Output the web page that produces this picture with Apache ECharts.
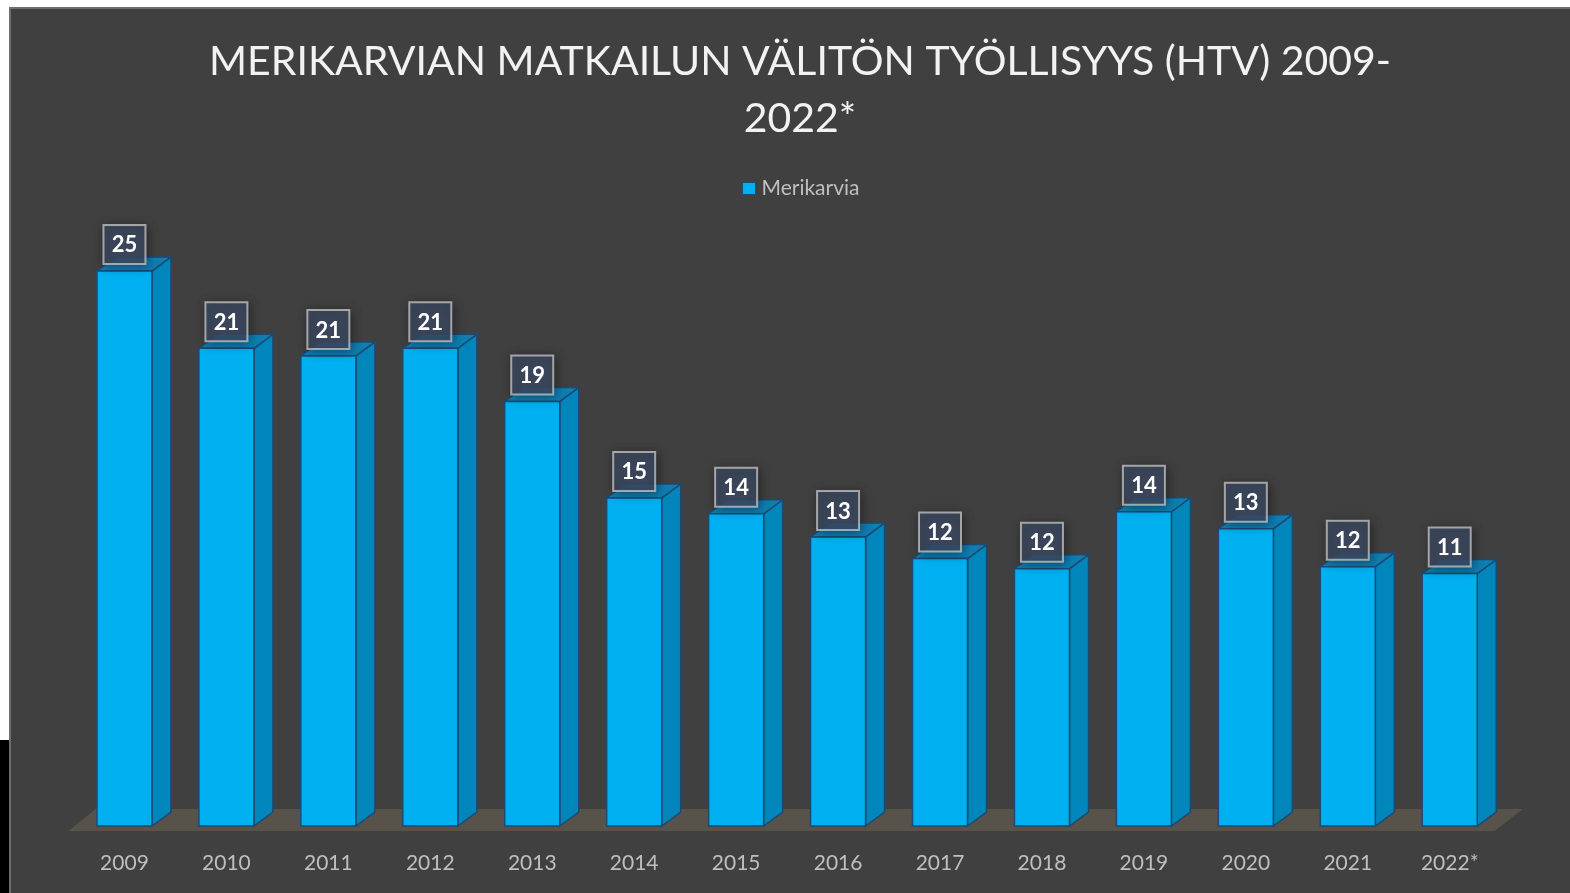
<!DOCTYPE html>
<html>
<head>
<meta charset="utf-8">
<script src="https://cdn.jsdelivr.net/npm/echarts@6/dist/echarts.min.js"></script>
<style>
  html, body { margin: 0; padding: 0; background: #fff; width: 1570px; height: 893px; overflow: hidden; }
  #edge { position: absolute; left: 0; top: 740px; width: 9px; height: 153px; background: #000; }
  #main { position: absolute; left: 9px; top: 7px; width: 1561px; height: 886px; background: #404040;
          box-sizing: border-box; border-left: 2px solid #6e6e6e; border-top: 2px solid #6e6e6e; }
</style>
</head>
<body>
<div id="edge"></div>
<div id="main"></div>
<script>
// data (bar heights), labels are the rounded values
const years = ['2009', '2010', '2011', '2012', '2013', '2014', '2015', '2016', '2017', '2018', '2019', '2020', '2021', '2022*'];
const htv = [24.87, 21.40, 21.06, 21.40, 19.02, 14.70, 13.99, 12.95, 11.98, 11.53, 14.08, 13.32, 11.62, 11.31];
const seriesName = 'Merikarvia';
const titleLines = ['MERIKARVIAN MATKAILUN VÄLITÖN TYÖLLISYYS (HTV) 2009-', '2022*'];

const chart = echarts.init(document.getElementById('main'));

// 3d look
const DX = 19, DY = -14;

function renderBar(params, api){
    const idx = api.value(0);
    const v = api.value(1);
    const top = api.coord([idx, v]);
    const base = api.coord([idx, 0]);
    const w = api.size([1, 0])[0] * 0.54;
    const l = top[0] - w / 2, r = top[0] + w / 2;
    const ty = top[1], by = base[1];
    const edge = '#1d4a72';
    const bw = 42, bh = 39;
    const boxY = ty - 7 - bh;
    return {
        type: 'group',
        children: [
            {type: 'polygon', shape: {points: [[r, ty], [r + DX, ty + DY], [r + DX, by + DY], [r, by]]},
                style: {fill: '#0086bb', stroke: edge, lineWidth: 1.5}},
            {type: 'polygon', shape: {points: [[l, ty], [l + DX, ty + DY], [r + DX, ty + DY], [r, ty]]},
                style: {fill: '#0f7fb3', stroke: edge, lineWidth: 1.5}},
            {type: 'rect', shape: {x: l, y: ty, width: w, height: by - ty},
                style: {fill: '#00b0f0', stroke: edge, lineWidth: 1.5}},
            {type: 'rect', shape: {x: top[0] - bw / 2, y: boxY, width: bw, height: bh},
                style: {fill: 'rgba(62,76,100,0.82)', stroke: 'rgba(200,200,200,0.75)', lineWidth: 2,
                    shadowBlur: 10, shadowColor: 'rgba(0,0,0,0.45)', shadowOffsetX: 2, shadowOffsetY: 2}},
            {type: 'text', style: {text: String(Math.round(v)), x: top[0], y: boxY + bh / 2 + 1,
                align: 'center', verticalAlign: 'middle', fill: '#ffffff',
                font: 'bold 22px Lato, "Open Sans", sans-serif'}}
        ]
    };
}

function renderFloor(params, api){
    const cs = params.coordSys;
    const fy = cs.y + cs.height + 5;
    const x0 = cs.x - 5, x1 = cs.x + cs.width - 6;
    return {
        type: 'polygon',
        shape: {points: [[x0, fy], [x0 + 27, fy - 22], [x1 + 28, fy - 22], [x1, fy]]},
        style: {fill: '#57534b'}
    };
}

const option = {
    backgroundColor: '#404040',
    animation: false,
    textStyle: {fontFamily: 'Lato, "Open Sans", sans-serif'},
    graphic: [
        {type: 'text', x: 789, y: 53, style: {text: titleLines[0], align: 'center', verticalAlign: 'middle',
            fill: '#f2f2f2', font: '41px Lato, "Open Sans", sans-serif'}},
        {type: 'text', x: 789, y: 110, style: {text: titleLines[1], align: 'center', verticalAlign: 'middle',
            fill: '#f2f2f2', font: '41px Lato, "Open Sans", sans-serif'}}
    ],
    legend: {
        data: [seriesName],
        left: 731,
        top: 169,
        padding: 0,
        icon: 'rect',
        itemWidth: 13,
        itemHeight: 12,
        itemStyle: {borderColor: '#1d4a72', borderWidth: 1},
        textStyle: {color: '#bfbfbf', fontSize: 21, padding: [0, 0, 0, 1], fontFamily: 'Lato, "Open Sans", sans-serif'}
    },
    grid: {left: 62.5, right: 69.3, top: 259, bottom: 67},
    xAxis: {
        type: 'category',
        data: years,
        axisLine: {show: false},
        axisTick: {show: false},
        splitLine: {show: false},
        axisLabel: {color: '#bfbfbf', fontSize: 21, margin: 27, fontFamily: 'Lato, "Open Sans", sans-serif'}
    },
    yAxis: {
        type: 'value',
        min: 0,
        max: 25,
        show: false,
        splitLine: {show: false}
    },
    series: [
        {
            name: 'floor',
            type: 'custom',
            renderItem: renderFloor,
            data: [[0, 0]],
            silent: true,
            z: 1
        },
        {
            name: seriesName,
            type: 'custom',
            renderItem: renderBar,
            itemStyle: {color: '#00b0f0'},
            encode: {x: 0, y: 1},
            data: htv.map((v, i) => [i, v]),
            z: 2
        }
    ]
};

chart.setOption(option);
</script>
</body>
</html>
